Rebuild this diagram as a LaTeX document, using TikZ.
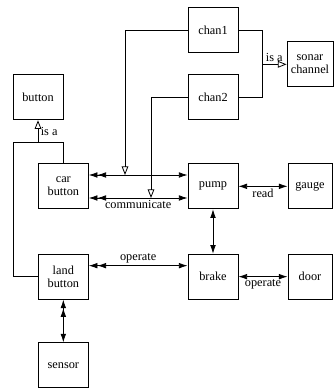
\documentclass[tikz,border=0pt]{standalone}
\usepackage{fontspec}
\setmainfont{Liberation Serif}
\usetikzlibrary{arrows.meta}

\begin{document}
\begin{tikzpicture}[>={Latex[length=2.6mm,width=1.7mm]},line width=0.7pt,
  box/.style={draw,minimum width=1.5cm,minimum height=1.35cm,align=center,
    font=\fontsize{10.5}{11.5}\selectfont},
  lbl/.style={font=\fontsize{10.5}{11.5}\selectfont,inner sep=2pt},
  isa/.style={-{Triangle[open,length=2.6mm,width=2mm]}}]
\useasboundingbox (0,0) rectangle (9.99,11.76);

\node[box] (chan1)  at (6.39,10.85) {chan1};
\node[box] (chan2)  at (6.39,8.84) {chan2};
\node[box,minimum width=1.32cm] (sonar) at (9.3,9.83) {sonar\\channel};
\node[box] (button) at (1.14,8.84) {button};
\node[box] (car)    at (1.9,6.17) {car\\button};
\node[box] (pump)   at (6.39,6.17) {pump};
\node[box,minimum width=1.32cm] (gauge) at (9.3,6.17) {gauge};
\node[box] (land)   at (1.9,3.46) {land\\button};
\node[box] (brake)  at (6.39,3.46) {brake};
\node[box,minimum width=1.32cm] (door) at (9.3,3.46) {door};
\node[box] (sensor) at (1.9,0.8) {sensor};

\coordinate (t1)  at (3.75,6.51);
\coordinate (t2)  at (4.53,5.82);
\coordinate (sc)  at (7.86,9.83);
\coordinate (bt)  at (1.14,7.5);
\coordinate (lc)  at (0.39,7.5);

% communicate
\draw[<<->] ([yshift=0.34cm]car.east) -- ([yshift=0.34cm]pump.west);
\draw[<<->] ([yshift=-0.35cm]car.east) -- node[lbl,below] {communicate} ([yshift=-0.35cm]pump.west);
\draw[isa] (chan1.west) -| (t1);
\draw[isa] (chan2.west) -| (t2);

% is a
\draw (chan1.east) -| (sc);
\draw (chan2.east) -| (sc);
\draw[isa] (sc) -- node[lbl,above] {is a} (sonar.west);
\draw (car.north) |- (bt);
\draw (land.west) -| (lc) -- (bt);
\draw[isa] (bt) -- node[lbl,right] {is a} (button.south);

\draw[<->] (pump.east) -- node[lbl,below] {read} (gauge.west);
\draw[<->] (pump.south) -- (brake.north);
\draw[<<->] ([yshift=0.33cm]land.east) -- node[lbl,above] {operate} ([yshift=0.33cm]brake.west);
\draw[<->] (brake.east) -- node[lbl,below] {operate} (door.west);
\draw[<<->] (land.south) -- (sensor.north);
\end{tikzpicture}
\end{document}
